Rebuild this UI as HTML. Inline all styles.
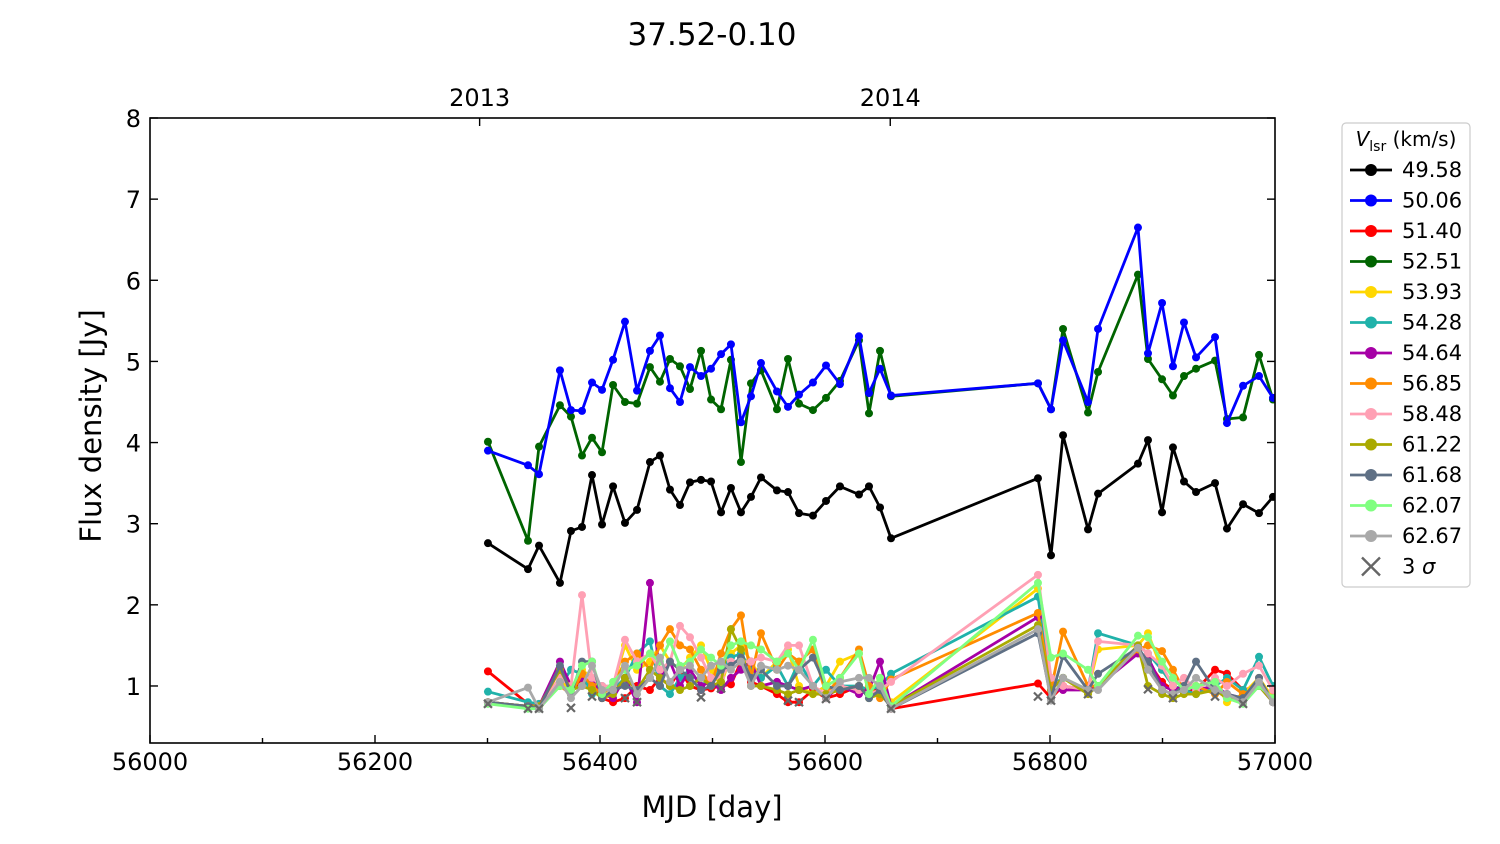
<!DOCTYPE html>
<html><head><meta charset="utf-8"><style>
html,body{margin:0;padding:0;background:#fff;}
svg{display:block;font-family:"DejaVu Sans","Liberation Sans",sans-serif;}
</style></head><body>
<svg id="chart" width="1500" height="844" viewBox="0 0 1500 844">
<text x="712" y="45" font-size="31" text-anchor="middle">37.52-0.10</text>
<text x="712" y="817" font-size="29" text-anchor="middle">MJD [day]</text>
<text transform="translate(101,426) rotate(-90)" font-size="29" text-anchor="middle">Flux density [Jy]</text>
<g id="plot"></g>
<g id="axes"></g>
<g id="legend"></g>
</svg>
<script>
const mjd=[56300.4,56336,56345.8,56364.4,56374.2,56384,56392.9,56401.8,56411.6,56422.2,56432.9,56444.4,56453.3,56462.2,56471.1,56480,56489.8,56498.7,56507.6,56516.4,56525.3,56534.2,56543.1,56557.3,56567.1,56576.9,56589.3,56600.9,56613.3,56630.2,56639.1,56648.9,56658.7,56789.3,56800.9,56811.6,56833.8,56842.7,56878.2,56887.1,56899.6,56909.3,56919.1,56929.8,56946.7,56957.3,56971.6,56985.8,56998.2];
const s4958=[2.76,2.44,2.73,2.27,2.91,2.96,3.60,2.99,3.46,3.01,3.17,3.76,3.84,3.42,3.23,3.51,3.54,3.52,3.14,3.44,3.14,3.33,3.57,3.41,3.39,3.13,3.10,3.28,3.46,3.36,3.46,3.20,2.82,3.56,2.61,4.09,2.93,3.37,3.74,4.03,3.14,3.94,3.52,3.39,3.50,2.94,3.24,3.13,3.33];
const s5006=[3.90,3.72,3.61,4.89,4.40,4.39,4.74,4.65,5.02,5.49,4.64,5.13,5.32,4.67,4.50,4.93,4.82,4.91,5.09,5.21,4.25,4.57,4.98,4.63,4.44,4.59,4.74,4.95,4.72,5.31,4.61,4.91,4.58,4.73,4.41,5.26,4.50,5.40,6.65,5.10,5.72,4.94,5.48,5.05,5.30,4.24,4.70,4.82,4.55];
const s5251=[4.01,2.79,3.95,4.46,4.32,3.84,4.06,3.88,4.71,4.50,4.48,4.93,4.75,5.03,4.94,4.66,5.13,4.53,4.41,5.02,3.76,4.73,4.89,4.41,5.03,4.48,4.40,4.55,4.76,5.26,4.36,5.13,4.57,4.73,4.41,5.40,4.37,4.87,6.07,5.03,4.78,4.58,4.82,4.91,5.01,4.29,4.31,5.08,4.53];
const s5140=[1.18,0.78,0.75,1.2,0.95,1.05,1.0,0.85,0.8,0.85,1.0,0.95,1.1,1.0,1.2,1.0,0.95,0.97,1.0,1.02,1.3,1.05,1.0,0.9,0.8,0.8,0.95,0.85,0.9,1.0,0.9,1.0,0.72,1.03,0.85,1.0,0.95,1.0,1.45,1.3,1.05,0.95,0.92,0.95,1.2,1.15,0.95,1.0,0.9];
const s5393=[0.8,0.75,0.75,1.1,0.9,1.2,1.1,0.9,1.0,1.5,1.2,1.3,1.5,1.3,1.2,1.35,1.5,1.2,1.0,1.4,1.5,1.3,1.1,1.3,1.45,1.0,0.9,1.0,1.3,1.4,0.9,1.1,0.8,2.2,1.0,1.1,0.95,1.45,1.5,1.65,1.2,1.0,0.95,1.0,1.05,0.8,0.9,1.1,0.85];
const s5428=[0.93,0.8,0.78,1.0,1.2,1.15,0.9,1.0,0.95,1.1,1.4,1.55,1.0,0.9,1.1,1.2,1.0,1.1,1.2,1.35,1.4,1.2,1.1,1.25,1.0,1.3,1.0,1.2,1.0,1.0,0.95,1.0,1.15,2.1,1.0,1.1,0.95,1.65,1.5,1.4,1.2,1.0,0.95,0.9,1.0,1.1,0.95,1.36,1.0];
const s5464=[0.8,0.75,0.75,1.3,1.0,1.1,1.05,0.9,0.85,1.1,0.8,2.27,1.1,1.3,1.0,1.2,1.0,1.05,0.95,1.1,1.2,1.3,1.0,1.05,1.0,0.95,1.0,0.85,1.0,0.9,0.95,1.3,0.75,1.85,0.95,0.95,0.95,1.0,1.4,1.35,1.0,0.95,1.0,0.95,1.0,0.9,0.85,1.0,0.8];
const s5685=[0.8,0.75,0.75,1.0,0.9,1.15,1.0,0.9,1.0,1.3,1.4,1.2,1.5,1.7,1.5,1.45,1.2,1.0,1.4,1.7,1.87,1.1,1.65,1.2,1.4,1.3,1.45,0.9,1.1,1.45,1.0,0.85,1.08,1.9,0.95,1.67,1.0,1.0,1.45,1.5,1.43,1.2,0.95,1.0,0.9,1.05,0.9,1.0,0.85];
const s5848=[0.8,0.75,0.75,1.1,1.0,2.12,1.1,1.0,1.0,1.57,1.3,1.4,1.2,1.3,1.74,1.6,1.35,1.1,1.1,1.3,1.3,1.3,1.35,1.3,1.5,1.5,1.0,0.9,1.0,0.95,0.9,0.95,1.05,2.37,1.1,1.0,0.95,1.55,1.5,1.4,1.25,1.0,1.1,0.95,1.1,1.0,1.15,1.25,0.95];
const s6122=[0.8,0.75,0.75,1.2,0.95,1.0,0.95,0.85,0.9,1.1,0.95,1.2,1.1,1.0,0.95,1.0,1.1,1.0,1.05,1.7,1.45,1.0,1.0,0.95,0.9,0.95,0.9,0.9,0.95,1.0,0.85,0.9,0.75,1.75,0.95,1.1,0.9,1.0,1.5,1.0,0.9,0.85,0.9,0.9,0.95,0.85,0.85,1.0,0.8];
const s6168=[0.8,0.75,0.72,1.25,0.9,1.3,1.3,0.85,0.95,1.0,0.95,1.1,1.0,1.3,1.2,1.1,0.95,1.0,1.2,1.25,1.35,1.1,1.2,1.0,1.0,1.2,1.35,1.0,0.95,1.0,0.85,0.95,0.72,1.65,0.85,1.37,0.95,1.15,1.47,1.3,0.95,0.9,1.0,1.3,0.95,0.9,0.85,1.1,0.8];
const s6207=[0.78,0.72,0.72,1.0,0.95,1.25,1.3,0.9,1.05,1.2,1.25,1.4,1.3,1.55,1.25,1.3,1.45,1.35,1.25,1.5,1.55,1.5,1.45,1.3,1.4,1.2,1.57,1.0,1.1,1.4,0.9,1.1,0.75,2.27,1.35,1.4,1.2,1.0,1.62,1.6,1.3,1.1,0.95,1.0,1.05,0.85,0.78,1.0,0.85];
const s6267=[0.8,0.98,0.72,1.05,0.85,1.0,1.25,0.95,0.95,1.25,0.9,1.1,1.35,1.05,1.2,1.25,1.1,1.25,1.3,1.2,1.3,1.0,1.25,1.2,1.25,1.2,1.0,0.85,1.05,1.1,1.1,1.0,0.72,1.7,0.82,1.1,0.95,0.95,1.47,1.2,0.95,0.9,0.95,1.1,0.95,0.9,0.8,1.05,0.8];
const limMjd=[56300.4,56336,56345.8,56374.2,56392.9,56422.2,56432.9,56489.8,56507.6,56567.1,56576.9,56600.9,56658.7,56789.3,56800.9,56833.8,56887.1,56909.3,56946.7,56971.6];
const limVal=[0.78,0.72,0.72,0.73,0.87,0.85,0.8,0.86,0.97,0.82,0.8,0.84,0.72,0.87,0.82,0.9,0.96,0.85,0.87,0.78];
const yTicks=[1,2,3,4,5,6,7,8];
const xTicks=[56000,56200,56400,56600,56800,57000];
const yearLabels=["2013","2014"];
const yearMjd=[56293,56658];

const L=150,R=1275,T=118,B=743;
const X=v=>L+(v-56000)*(R-L)/1000;
const Y=v=>T+(8-v)*81.14;
const NS="http://www.w3.org/2000/svg";
function mk(tag,attrs,parent){const e=document.createElementNS(NS,tag);for(const k in attrs)e.setAttribute(k,attrs[k]);parent.appendChild(e);return e;}
const plot=document.getElementById('plot'),axes=document.getElementById('axes'),leg=document.getElementById('legend');
mk('clipPath',{id:'clip'},plot);
mk('rect',{x:L,y:T,width:R-L,height:B-T},document.getElementById('clip'));
const series=[
 ['49.58','#000000',s4958],['50.06','#0000ff',s5006],['51.40','#ff0000',s5140],['52.51','#006400',s5251],
 ['53.93','#ffd700',s5393],['54.28','#20b2aa',s5428],['54.64','#a600a6',s5464],['56.85','#ff8c00',s5685],
 ['58.48','#ffa0b4',s5848],['61.22','#aaaa00',s6122],['61.68','#5f7085',s6168],['62.07','#80ff80',s6207],['62.67','#a9a9a9',s6267]];
const drawOrder=[2,4,5,6,7,8,9,10,11,12,0,3,1];
const gData=mk('g',{'clip-path':'url(#clip)'},plot);
drawOrder.forEach(i=>{
  const [name,col,vals]=series[i];
  const g=mk('g',{},gData);
  
  
  const pts=vals.map((v,j)=>X(mjd[j]).toFixed(1)+','+Y(v).toFixed(1)).join(' ');
  const pl=mk('polyline',{points:pts,fill:'none',stroke:col,'stroke-width':2.8,'stroke-linejoin':'round'},g);
  
  
  vals.forEach((v,j)=>{
    const c=mk('circle',{cx:X(mjd[j]),cy:Y(v),r:4,fill:col},g);
    
    
  });
});
limMjd.forEach((m,j)=>{
  const x=X(m),y=Y(limVal[j]);
  const p=mk('path',{d:`M${x-4},${y-4}L${x+4},${y+4}M${x-4},${y+4}L${x+4},${y-4}`,stroke:'#666',"stroke-width":2.2},gData);
  
  
});
const fr=mk('rect',{x:L,y:T,width:R-L,height:B-T,fill:'none',stroke:'#000','stroke-width':1.6},axes);


yTicks.forEach(t=>{
  const y=Y(t);
  mk('line',{x1:L,x2:L+8,y1:y,y2:y,stroke:'#000','stroke-width':1.4},axes);
  mk('line',{x1:R,x2:R-8,y1:y,y2:y,stroke:'#000','stroke-width':1.4},axes);
  const tx=mk('text',{x:L-9,y:y+9,'font-size':24,'text-anchor':'end'},axes);
  tx.textContent=t;
  
  
});
for(let m=56000;m<=57000;m+=100){
  const x=X(m),big=(m%200===0);
  mk('line',{x1:x,x2:x,y1:B,y2:B-(big?8:5),stroke:'#000','stroke-width':1.4},axes);
}
xTicks.forEach(t=>{
  const tx=mk('text',{x:X(t),y:B+27,'font-size':24,'text-anchor':'middle'},axes);
  tx.textContent=t;
  
  
});
yearLabels.forEach((lab,j)=>{
  const x=X(yearMjd[j]);
  mk('line',{x1:x,x2:x,y1:T,y2:T+8,stroke:'#000','stroke-width':1.4},axes);
  const tx=mk('text',{x:x,y:T-12,'font-size':24,'text-anchor':'middle'},axes);
  tx.textContent=lab;
  
  
});
const box=mk('rect',{x:1342,y:123,width:128,height:464,rx:4,fill:'#fff',stroke:'#ccc','stroke-width':1.2},leg);


const lt=mk('text',{x:1406,y:146,'font-size':20,'text-anchor':'middle'},leg);
lt.innerHTML='<tspan font-style="italic">V</tspan><tspan font-size="14" dy="5">lsr</tspan><tspan dy="-5"> (km/s)</tspan>';


series.forEach(([name,col],i)=>{
  const y=170+i*30.5;
  const g=mk('g',{},leg);
  
  
  mk('line',{x1:1350,x2:1392,y1:y,y2:y,stroke:col,'stroke-width':2.8},g);
  mk('circle',{cx:1371,cy:y,r:6,fill:col},g);
  const t=mk('text',{x:1402,y:y+7,'font-size':21},g);
  t.textContent=name;
});
{
  const y=170+13*30.5;
  const g=mk('g',{},leg);
  
  
  mk('path',{d:`M1362,${y-9}L1380,${y+9}M1362,${y+9}L1380,${y-9}`,stroke:'#666','stroke-width':2.4},g);
  const t=mk('text',{x:1402,y:y+7,'font-size':21},g);
  t.innerHTML='3 <tspan font-style="italic">σ</tspan>';
}
</script>
</body></html>
